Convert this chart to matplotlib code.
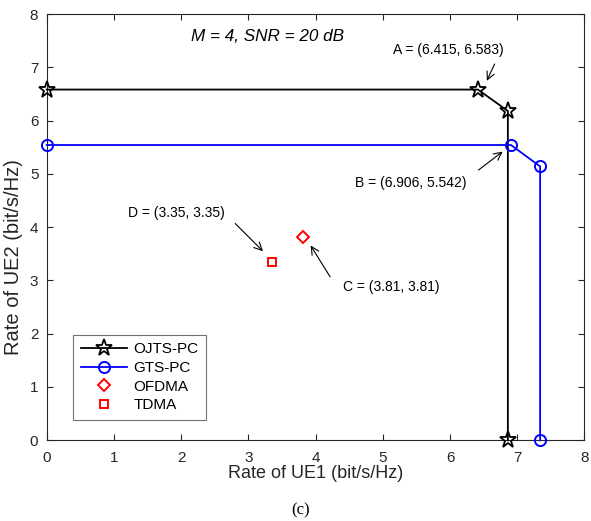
import numpy as np
import matplotlib.pyplot as plt

plt.rcParams['font.family'] = ['Liberation Sans', 'DejaVu Sans']

# rate pairs (UE1, UE2)
ojts_x = [0, 6.415, 6.86, 6.86]
ojts_y = [6.583, 6.583, 6.18, 0]
gts_x = [0, 6.906, 7.34, 7.34]
gts_y = [5.542, 5.542, 5.14, 0]
ofdma = (3.81, 3.81)
tdma = (3.35, 3.35)

fig = plt.figure(figsize=(5.91, 5.21), dpi=100)
ax = fig.add_axes([0.079, 0.155, 0.910, 0.818])

ax.plot(ojts_x, ojts_y, color='k', lw=1.3, marker='*', ms=12.5, mfc='none', mew=1.3,
        label='OJTS-PC', clip_on=False, zorder=3)
ax.plot(gts_x, gts_y, color='b', lw=1.3, marker='o', ms=8, mfc='none', mew=1.4,
        label='GTS-PC', clip_on=False, zorder=3)
ax.plot(*ofdma, ls='none', color='r', marker='D', ms=6.5, mfc='none', mew=1.4, label='OFDMA')
ax.plot(*tdma, ls='none', color='r', marker='s', ms=6, mfc='none', mew=1.4, label='TDMA')

ax.set_xlim(0, 8)
ax.set_ylim(0, 8)
ax.set_xticks(range(9))
ax.set_yticks(range(9))
ax.tick_params(direction='in', top=True, right=True, labelsize=11, length=4, width=0.8,
               colors='0.15')
ax.tick_params(axis='x', pad=8)
ax.tick_params(axis='y', pad=6)
for s in ax.spines.values():
    s.set_linewidth(0.8)
    s.set_color('0.15')
ax.set_xlabel('Rate of UE1 (bit/s/Hz)', fontsize=13, labelpad=0, color='0.15')
ax.set_ylabel('Rate of UE2 (bit/s/Hz)', fontsize=14.5, color='0.15')
ax.yaxis.set_label_coords(-0.044, 0.43)

ax.text(3.28, 7.57, 'M = 4, SNR = 20 dB', style='italic', fontsize=12.3, ha='center', va='center')

# labels and arrows for the marked points
arrow = dict(arrowstyle='->', color='k', lw=0.8, mutation_scale=14)
ax.text(5.967, 7.33, 'A = (6.415, 6.583)', fontsize=10, ha='center', va='center')
ax.annotate('', xy=(6.53, 6.70), xytext=(6.68, 7.11), arrowprops=arrow)
ax.text(5.42, 4.83, 'B = (6.906, 5.542)', fontsize=10, ha='center', va='center')
ax.annotate('', xy=(6.815, 5.45), xytext=(6.39, 5.04), arrowprops=arrow)
ax.text(1.933, 4.263, 'D = (3.35, 3.35)', fontsize=10, ha='center', va='center')
ax.annotate('', xy=(3.246, 3.512), xytext=(2.775, 4.105), arrowprops=arrow)
ax.text(5.12, 2.88, 'C = (3.81, 3.81)', fontsize=10, ha='center', va='center')
ax.annotate('', xy=(3.905, 3.70), xytext=(4.238, 3.023), arrowprops=arrow)

leg = ax.legend(loc='lower left', bbox_to_anchor=(0.049, 0.048), fontsize=11, frameon=True,
                fancybox=False, edgecolor='0.3', handlelength=3.0, handletextpad=0.45,
                borderpad=0.5, labelspacing=0.3, borderaxespad=0)
leg.get_frame().set_linewidth(0.8)

fig.text(0.508, 0.021, '(c)', fontsize=12, ha='center', va='center',
         family=['Liberation Serif', 'DejaVu Serif'])

fig.savefig('out.png', dpi=100)
